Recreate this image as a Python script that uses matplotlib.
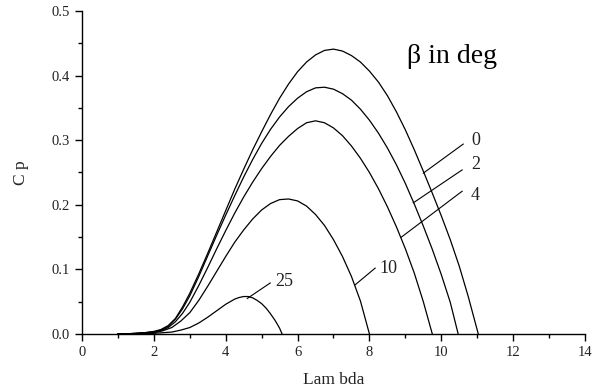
import matplotlib
matplotlib.use("Agg")
import matplotlib.pyplot as plt
from matplotlib.ticker import MultipleLocator, FormatStrFormatter

# Cp vs tip speed ratio (lambda)
lam_b0 = [1.0, 1.25, 1.5, 1.75, 2.0, 2.2, 2.4, 2.6, 2.8, 3.0, 3.25, 3.5, 3.75, 4.0, 4.25,
          4.5, 4.75, 5.0, 5.25, 5.5, 5.75, 6.0, 6.25, 6.5, 6.75, 7.0, 7.25, 7.5, 7.75,
          8.0, 8.25, 8.5, 8.75, 9.0, 9.25, 9.5, 9.75, 10.0, 10.25, 10.5, 10.75, 11.03]
cp_b0 = [0.0, 0.0003, 0.001, 0.002, 0.004, 0.007, 0.013, 0.024, 0.042, 0.063, 0.093, 0.125,
         0.158, 0.191, 0.224, 0.255, 0.285, 0.313, 0.340, 0.365, 0.387, 0.406, 0.421, 0.432,
         0.439, 0.441, 0.438, 0.431, 0.421, 0.407, 0.390, 0.369, 0.344, 0.316, 0.285, 0.252,
         0.218, 0.183, 0.146, 0.105, 0.058, 0.0]

lam_b2 = [1.0, 1.25, 1.5, 1.75, 2.0, 2.2, 2.4, 2.6, 2.8, 3.0, 3.25, 3.5, 3.75, 4.0, 4.25,
          4.5, 4.75, 5.0, 5.25, 5.5, 5.75, 6.0, 6.25, 6.5, 6.75, 7.0, 7.25, 7.5, 7.75,
          8.0, 8.25, 8.5, 8.75, 9.0, 9.25, 9.5, 9.75, 10.0, 10.25, 10.47]
cp_b2 = [0.0, 0.0003, 0.001, 0.002, 0.003, 0.006, 0.012, 0.023, 0.039, 0.059, 0.089, 0.121,
         0.153, 0.184, 0.214, 0.243, 0.270, 0.295, 0.317, 0.336, 0.352, 0.365, 0.375, 0.381,
         0.382, 0.379, 0.372, 0.362, 0.348, 0.331, 0.311, 0.288, 0.262, 0.233, 0.201, 0.167,
         0.131, 0.092, 0.049, 0.0]

lam_b4 = [1.0, 1.25, 1.5, 1.75, 2.0, 2.2, 2.4, 2.6, 2.8, 3.0, 3.25, 3.5, 3.75, 4.0, 4.25,
          4.5, 4.75, 5.0, 5.25, 5.5, 5.75, 6.0, 6.25, 6.5, 6.75, 7.0, 7.25, 7.5, 7.75,
          8.0, 8.25, 8.5, 8.75, 9.0, 9.25, 9.5, 9.75]
cp_b4 = [0.0, 0.0003, 0.001, 0.002, 0.003, 0.005, 0.010, 0.019, 0.032, 0.049, 0.075, 0.103,
         0.132, 0.160, 0.187, 0.212, 0.235, 0.256, 0.275, 0.292, 0.306, 0.318, 0.327, 0.330,
         0.327, 0.319, 0.307, 0.291, 0.272, 0.250, 0.225, 0.197, 0.166, 0.132, 0.094, 0.050,
         0.0]

lam_b10 = [1.0, 1.25, 1.5, 1.75, 2.0, 2.25, 2.5, 2.75, 3.0, 3.25, 3.5, 3.75, 4.0, 4.25,
           4.5, 4.75, 5.0, 5.25, 5.5, 5.75, 6.0, 6.25, 6.5, 6.75, 7.0, 7.25, 7.5, 7.75, 8.0]
cp_b10 = [0.0, 0.0002, 0.0005, 0.001, 0.002, 0.005, 0.010, 0.020, 0.033, 0.052, 0.074, 0.097,
          0.120, 0.142, 0.161, 0.178, 0.192, 0.202, 0.208, 0.209, 0.206, 0.198, 0.185, 0.168,
          0.146, 0.120, 0.089, 0.051, 0.0]

lam_b25 = [1.0, 1.5, 2.0, 2.25, 2.5, 2.75, 3.0, 3.25, 3.5, 3.75, 4.0, 4.25, 4.375, 4.5,
           4.625, 4.75, 4.875, 5.0, 5.125, 5.25, 5.375, 5.5, 5.57]
cp_b25 = [0.0, 0.0, 0.001, 0.002, 0.003, 0.006, 0.010, 0.017, 0.026, 0.036, 0.046, 0.054,
          0.0565, 0.058, 0.058, 0.056, 0.052, 0.047, 0.040, 0.031, 0.021, 0.009, 0.0]

curves = [(lam_b0, cp_b0), (lam_b2, cp_b2), (lam_b4, cp_b4), (lam_b10, cp_b10), (lam_b25, cp_b25)]

# pitch angle labels with their leader lines (data coords)
labels = ["0", "2", "4", "10", "25"]
leader_start = [(9.5, 0.249), (9.22, 0.203), (8.89, 0.150), (7.6, 0.076), (4.6, 0.055)]
leader_end = [(10.61, 0.294), (10.58, 0.254), (10.58, 0.221), (8.16, 0.102), (5.24, 0.079)]
label_pos = [(10.95, 0.300), (10.95, 0.263), (10.95, 0.215), (8.52, 0.102), (5.62, 0.081)]

serif = "Liberation Serif"

fig = plt.figure(figsize=(6.01, 3.90), dpi=100)
ax = fig.add_axes([0.1364, 0.1436, 0.8370, 0.8282])

for lam, cp in curves:
    ax.plot(lam, cp, color="black", lw=0.9)

for lab, p0, p1, pt in zip(labels, leader_start, leader_end, label_pos):
    ax.plot([p0[0], p1[0]], [p0[1], p1[1]], color="black", lw=0.8)
    ax.text(pt[0], pt[1], lab, fontsize=13, family=serif, ha="center", va="center",
            color="#222222")

ax.text(10.3, 0.43, "β in deg", fontsize=20, family=serif, ha="center", va="center")

ax.set_xlim(0, 14)
ax.set_ylim(0, 0.5)
ax.xaxis.set_major_locator(MultipleLocator(2))
ax.xaxis.set_minor_locator(MultipleLocator(1))
ax.yaxis.set_major_locator(MultipleLocator(0.1))
ax.yaxis.set_minor_locator(MultipleLocator(0.05))
ax.yaxis.set_major_formatter(FormatStrFormatter("%.1f"))

ax.spines["top"].set_visible(False)
ax.spines["right"].set_visible(False)
for s in ["left", "bottom"]:
    ax.spines[s].set_linewidth(1.0)
ax.tick_params(which="major", direction="out", length=4.8, width=1.0, labelsize=10.5,
               pad=4, labelcolor="#222222")
ax.tick_params(which="minor", direction="out", length=3, width=1.0)
for lbl in ax.get_xticklabels() + ax.get_yticklabels():
    lbl.set_family(serif)

ax.set_xlabel("Lam bda", fontsize=12.5, family=serif, labelpad=9, color="#222222")
ax.set_ylabel("C p", fontsize=12.5, family=serif, labelpad=16, color="#222222")

fig.savefig("out.png", dpi=100)
